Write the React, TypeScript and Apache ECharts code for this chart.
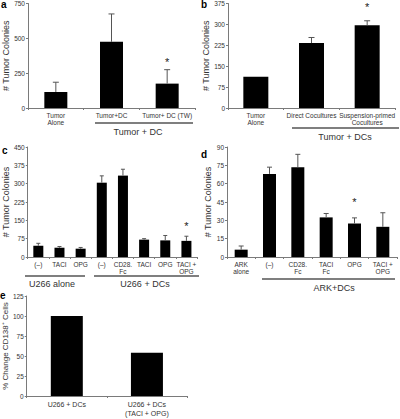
import React, { useEffect, useRef } from "react";
import * as echarts from "echarts";

const aCats = ["Tumor\nAlone", "Tumor+DC", "Tumor+ DC (TW)"];
const aVals = [115, 475, 175];
const aErr = [70, 200, 100];
const aStar = [[2, 330]];

const bCats = ["Tumor\nAlone", "Direct Cocultures", "Suspension-primed\nCocultures"];
const bVals = [112, 233, 297];
const bErr = [0, 20, 16];
const bStar = [[2, 362]];

const cCats = ["(–)", "TACI", "OPG", "(–)", "CD28.\nFc", "TACI", "OPG", "TACI +\nOPG"];
const cVals = [46, 38, 34, 304, 333, 71, 68, 66];
const cErr = [10, 5, 5, 28, 26, 4, 20, 19];
const cStar = [[7, 125]];

const dCats = ["ARK\nalone", "(–)", "CD28.\nFc", "TACI\nFc", "OPG", "TACI +\nOPG"];
const dVals = [6, 68, 73.5, 32.4, 27.4, 24.7];
const dErr = [3, 5.5, 10.5, 3.2, 4.6, 11.5];
const dStar = [[4, 45]];

const eCats = ["U266 + DCs", "U266 + DCs\n(TACI + OPG)"];
const eVals = [100, 54];

const aTicks = { min: 0, max: 750, interval: 250 };
const bTicks = { min: 0, max: 375, interval: 75 };
const cTicks = { min: 0, max: 450, interval: 75 };
const dTicks = { min: 0, max: 90, interval: 15 };
const eTicks = { min: 0, max: 125, interval: 25 };

const FONT = "'Liberation Sans', Arial, sans-serif";
const AXIS = "#7a7a7a";
const TXT = "#333";

export default function App() {
  const ref = useRef<HTMLDivElement>(null);
  useEffect(() => {
    if (!ref.current) return;
    const chart = echarts.init(ref.current, null, { renderer: "svg" });

    const grids = [
      { left: 28, top: 3, width: 167, height: 105 },
      { left: 228, top: 3, width: 167, height: 105 },
      { left: 27, top: 147, width: 170, height: 110 },
      { left: 227, top: 147, width: 170, height: 110 },
      { left: 25, top: 296, width: 162, height: 100 },
    ];
    const cats = [aCats, bCats, cCats, dCats, eCats];
    const ticks = [aTicks, bTicks, cTicks, dTicks, eTicks];
    const names = ["# Tumor Colonies", "# Tumor Colonies", "# Tumor Colonies", "# Tumor Colonies", "% Change CD138⁺ Cells"];
    const vals = [aVals, bVals, cVals, dVals, eVals];
    const errs = [aErr, bErr, cErr, dErr, null];
    const stars = [aStar, bStar, cStar, dStar, null];
    const barW = [23, 25, 10, 13, 32];
    const capW = [6, 6, 4, 5, 0];

    const xAxis = cats.map((c, i) => ({
      type: "category",
      gridIndex: i,
      data: c,
      axisLine: { lineStyle: { color: AXIS, width: 1 } },
      axisTick: { show: true, length: 2, lineStyle: { color: AXIS } },
      axisLabel: {
        interval: 0,
        fontSize: i === 4 ? 7 : 6.5,
        lineHeight: i === 4 ? 9 : 7,
        color: TXT,
        fontFamily: FONT,
        margin: 4,
      },
    }));
    const yAxis = ticks.map((t, i) => ({
      type: "value",
      gridIndex: i,
      min: t.min,
      max: t.max,
      interval: t.interval,
      splitLine: { show: false },
      axisLine: { show: true, lineStyle: { color: AXIS, width: 1 } },
      axisTick: { show: true, length: 2, lineStyle: { color: AXIS } },
      axisLabel: { fontSize: 6.5, color: TXT, fontFamily: FONT, margin: 3 },
      name: names[i],
      nameLocation: "middle",
      nameGap: i === 4 ? 14 : 15,
      nameTextStyle: { fontSize: i === 4 ? 8 : 9, color: TXT, fontFamily: FONT },
    }));

    const series: any[] = [];
    vals.forEach((v, i) => {
      series.push({
        type: "bar",
        xAxisIndex: i,
        yAxisIndex: i,
        data: v,
        barWidth: barW[i],
        itemStyle: { color: "#000" },
      });
      const e = errs[i];
      if (e) {
        const cw = capW[i];
        series.push({
          type: "custom",
          xAxisIndex: i,
          yAxisIndex: i,
          data: v.map((val, k) => [k, val, val + e[k]]),
          encode: { x: 0, y: [1, 2] },
          renderItem: (params: any, api: any) => {
            if (api.value(2) <= api.value(1)) return null;
            const p0 = api.coord([api.value(0), api.value(1)]);
            const p1 = api.coord([api.value(0), api.value(2)]);
            const style = { stroke: "#555", lineWidth: 1 };
            return {
              type: "group",
              children: [
                { type: "line", shape: { x1: p0[0], y1: p0[1], x2: p1[0], y2: p1[1] }, style },
                { type: "line", shape: { x1: p1[0] - cw / 2, y1: p1[1], x2: p1[0] + cw / 2, y2: p1[1] }, style },
              ],
            };
          },
          z: 3,
        });
      }
      const s = stars[i];
      if (s) {
        series.push({
          type: "custom",
          xAxisIndex: i,
          yAxisIndex: i,
          data: s,
          encode: { x: 0, y: 1 },
          renderItem: (params: any, api: any) => {
            const p = api.coord([api.value(0), api.value(1)]);
            return {
              type: "text",
              x: p[0],
              y: p[1],
              style: {
                text: "*",
                fontSize: 11,
                fill: "#222",
                fontFamily: FONT,
                align: "center",
                verticalAlign: "middle",
              },
            };
          },
        });
      }
    });

    const line = (x1: number, x2: number, y: number) => ({
      type: "line",
      shape: { x1, y1: y, x2, y2: y },
      style: { stroke: "#000", lineWidth: 1.2 },
    });
    const txt = (x: number, y: number, text: string, size = 9) => ({
      type: "text",
      x,
      y,
      style: { text, fontSize: size, fill: TXT, fontFamily: FONT, align: "center", verticalAlign: "middle" },
    });
    const letter = (x: number, y: number, text: string) => ({
      type: "text",
      x,
      y,
      style: { text, fontSize: 10, fontWeight: "bold", fill: "#000", fontFamily: FONT, align: "left", verticalAlign: "top" },
    });

    const graphic = [
      line(95, 193, 123), txt(138, 132, "Tumor + DC"),
      line(292, 399, 128), txt(345, 137, "Tumor + DCs"),
      line(25, 85, 276), txt(52, 284, "U266 alone"),
      line(94, 199, 276), txt(145, 284, "U266 + DCs"),
      line(262, 395, 279), txt(334, 288, "ARK+DCs"),
      letter(1, -1, "a"), letter(201, -1, "b"), letter(2, 145, "c"), letter(201, 149, "d"), letter(0, 290, "e"),
    ];

    chart.setOption({
      animation: false,
      backgroundColor: "#fff",
      textStyle: { fontFamily: FONT },
      grid: grids,
      xAxis,
      yAxis,
      series,
      graphic,
    });
    return () => chart.dispose();
  }, []);
  return <div ref={ref} style={{ position: "fixed", left: 0, top: 0, width: 400, height: 419 }} />;
}
